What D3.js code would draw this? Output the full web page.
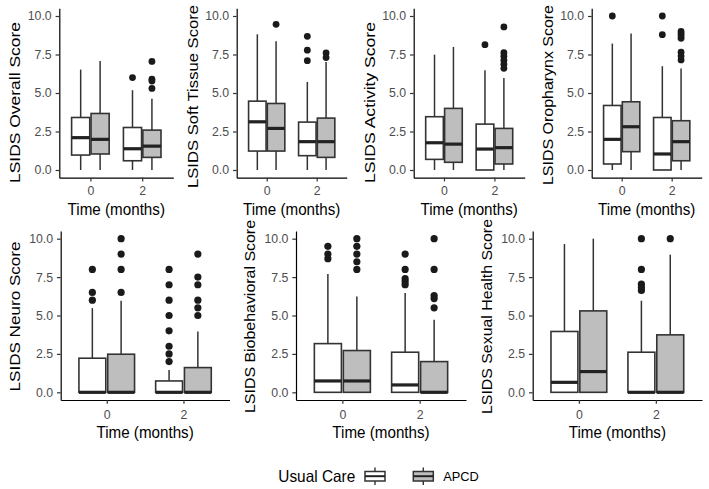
<!DOCTYPE html>
<html><head><meta charset="utf-8">
<script src="https://cdn.jsdelivr.net/npm/d3@7"></script>
<style>
body{margin:0;background:#fff}
text{font-family:"Liberation Sans",Arial,Helvetica,sans-serif}
</style>
</head><body>
<svg id="chart" width="709" height="489"></svg>
<script>
// ---------- data ----------
const times = ["0", "2"];
const groups = ["Usual Care", "APCD"];
const groupFill = ["#FFFFFF", "#BEBEBE"];
const yTicks = [0, 2.5, 5, 7.5, 10];
const panelTitles = [
  "LSIDS Overall Score", "LSIDS Soft Tissue Score", "LSIDS Activity Score", "LSIDS Oropharynx Score",
  "LSIDS Neuro Score", "LSIDS Biobehavioral Score", "LSIDS Sexual Health Score"
];
const xTitle = "Time (months)";
// box statistics: rows = [UC t0, APCD t0, UC t2, APCD t2]; cols = [lower whisker, Q1, median, Q3, upper whisker]
const overallStats = [[0,0.97,2.1,3.41,6.52],[0,1.04,1.99,3.67,7.08],[0,0.6,1.38,2.76,5.18],[0,0.82,1.55,2.59,4.62]];
const overallOutliers = [[],[],[6.0],[7.05,5.9,5.78,5.3]];
const softTissueStats = [[0,1.23,3.13,4.47,8.81],[0,1.23,2.7,4.32,8.36],[0,0.93,1.84,3.11,5.72],[0,0.82,1.84,3.37,7.02]];
const softTissueOutliers = [[],[9.46],[8.68,7.78,7.1],[7.6,7.3]];
const activityStats = [[0,0.69,1.77,3.46,7.49],[0,0.5,1.68,4.0,7.99],[0,0,1.36,2.98,6.48],[0,0.39,1.45,2.7,5.98]];
const activityOutliers = [[],[],[8.14],[9.29,7.62,7.39,7.13,6.87,6.6]];
const oropharynxStats = [[0,0.39,1.99,4.19,8.21],[0,1.19,2.81,4.43,8.86],[0,0,1.04,3.41,6.74],[0,0.6,1.84,3.2,6.59]];
const oropharynxOutliers = [[10],[],[10,8.79],[9.0,8.85,8.7,8.55,7.65,7.4,7.15]];
const neuroStats = [[0,0,0,2.22,5.48],[0,0,0,2.48,5.96],[0,0,0,0.74,1.46],[0,0,0,1.61,3.96]];
const neuroOutliers = [[8,6.5,6],[10,9,8,6.5],[8,7,6,5,4,3,2.5,2],[9,7.5,7,6,5.5,5]];
const biobehavioralStats = [[0,0,0.74,3.17,7.7],[0,0,0.74,2.72,6.24],[0,0,0.48,2.61,6.46],[0,0,0,2.0,4.72]];
const biobehavioralOutliers = [[9.5,9.0,8.7],[10,9.5,9,8.5,8],[9,8,7.4,7.2,7.0],[10,8,6.3,6.1,5.5]];
const sexualHealthStats = [[0,0,0.65,3.96,9.65],[0,0,1.35,5.3,10],[0,0,0,2.61,5.96],[0,0,0,3.74,8.96]];
const sexualHealthOutliers = [[],[],[10,8,7.04,6.83,6.63],[10]];

// ---------- layout ----------
const statsList = [overallStats, softTissueStats, activityStats, oropharynxStats, neuroStats, biobehavioralStats, sexualHealthStats];
const outList = [overallOutliers, softTissueOutliers, activityOutliers, oropharynxOutliers, neuroOutliers, biobehavioralOutliers, sexualHealthOutliers];
const rowTop = {y0: 177.7, y1: 8.3, tickBase: 195, titleBase: 215, yOff: 39, r: 3.4};
const rowBot = {y0: 400, y1: 231, tickBase: 418.5, titleBase: 437.5, yOff: 41, r: 3.6};
const panels = [
  {x0: 59.3, x1: 173.3, row: rowTop, tc: 102.5, tl: 161},
  {x0: 236.7, x1: 346.7, row: rowTop, tc: 96.5, tl: 183},
  {x0: 413.7, x1: 524.7, row: rowTop, tc: 102.5, tl: 161},
  {x0: 591.7, x1: 701.7, row: rowTop, tc: 95, tl: 180},
  {x0: 60.7, x1: 229.5, row: rowBot, tc: 316.5, tl: 150},
  {x0: 296, x1: 466, row: rowBot, tc: 316.5, tl: 193},
  {x0: 532.7, x1: 702, row: rowBot, tc: 316.5, tl: 195}
];

const svg = d3.select("#chart");
const boxStroke = "#333333";

panels.forEach((p, i) => {
  const r = p.row;
  const y = d3.scaleLinear().domain([-0.5, 10.5]).range([r.y0, r.y1]);
  const x = d3.scalePoint().domain(times).range([p.x0, p.x1]).padding(0.6);
  const step = x.step();
  const g = svg.append("g");

  // axes
  const ya = g.append("g").attr("transform", `translate(${p.x0},0)`)
    .call(d3.axisLeft(y).tickValues(yTicks).tickFormat(d3.format(".1f")).tickSize(3.7).tickSizeOuter(0).tickPadding(3.9));
  const xa = g.append("g").attr("transform", `translate(0,${r.y0})`)
    .call(d3.axisBottom(x).tickSize(3.7).tickSizeOuter(0).tickPadding(0));
  [ya, xa].forEach(a => {
    a.select(".domain").attr("stroke", "#000").attr("stroke-width", 1.2);
    a.selectAll(".tick line").attr("stroke", "#333").attr("stroke-width", 1.2);
    a.selectAll(".tick text").attr("fill", "#4D4D4D").attr("font-size", 12.3)
      .style("font-family", '"Liberation Sans",Arial,Helvetica,sans-serif');
  });
  xa.selectAll(".tick text").attr("dy", null).attr("y", r.tickBase - r.y0);

  // boxes
  const st = statsList[i], outs = outList[i];
  const w = 0.35 * step;
  st.forEach((s, k) => {
    const gi = k % 2, t = times[Math.floor(k / 2)];
    const cx = x(t) + (gi === 0 ? -1 : 1) * 0.1875 * step;
    const [lo, q1, med, q3, hi] = s;
    g.append("line").attr("x1", cx).attr("x2", cx).attr("y1", y(q3)).attr("y2", y(hi))
      .attr("stroke", boxStroke).attr("stroke-width", 1.5);
    g.append("line").attr("x1", cx).attr("x2", cx).attr("y1", y(q1)).attr("y2", y(lo))
      .attr("stroke", boxStroke).attr("stroke-width", 1.5);
    g.append("rect").attr("x", cx - w / 2).attr("width", w)
      .attr("y", y(q3)).attr("height", Math.max(0, y(q1) - y(q3)))
      .attr("fill", groupFill[gi]).attr("stroke", boxStroke).attr("stroke-width", 1.6);
    g.append("line").attr("x1", cx - w / 2).attr("x2", cx + w / 2).attr("y1", y(med)).attr("y2", y(med))
      .attr("stroke", "#222").attr("stroke-width", 3.2);
    g.selectAll(null).data(outs[k]).enter().append("circle")
      .attr("cx", cx).attr("cy", d => y(d)).attr("r", r.r).attr("fill", "#1a1a1a");
  });

  // titles
  g.append("text").attr("transform", `translate(${p.x0 - r.yOff},${p.tc}) rotate(-90)`)
    .attr("text-anchor", "middle").attr("font-size", 15.2).attr("fill", "#000")
    .attr("textLength", p.tl).attr("lengthAdjust", "spacingAndGlyphs")
    .text(panelTitles[i]);
  g.append("text").attr("transform", `translate(${(p.x0 + p.x1) / 2},${r.titleBase}) scale(1,1.1)`)
    .attr("text-anchor", "middle").attr("font-size", 15.2).attr("fill", "#000")
    .text(xTitle);
});

// legend
const lg = svg.append("g");
lg.append("text").attr("transform", "translate(278.3,481.7) scale(1,1.06)")
  .attr("font-size", 15.4).attr("fill", "#000").text(groups[0]);
[365, 413.3].forEach((kx, gi) => {
  lg.append("line").attr("x1", kx + 10).attr("x2", kx + 10).attr("y1", 467.5).attr("y2", 485)
    .attr("stroke", boxStroke).attr("stroke-width", 1.4);
  lg.append("rect").attr("x", kx).attr("y", 471.5).attr("width", 20).attr("height", 9.5)
    .attr("fill", groupFill[gi]).attr("stroke", boxStroke).attr("stroke-width", 1.5);
  lg.append("line").attr("x1", kx).attr("x2", kx + 20).attr("y1", 476.2).attr("y2", 476.2)
    .attr("stroke", "#222").attr("stroke-width", 2);
});
lg.append("text").attr("x", 443.3).attr("y", 481).attr("font-size", 12.8).attr("fill", "#000").text(groups[1]);
</script>
</body></html>
